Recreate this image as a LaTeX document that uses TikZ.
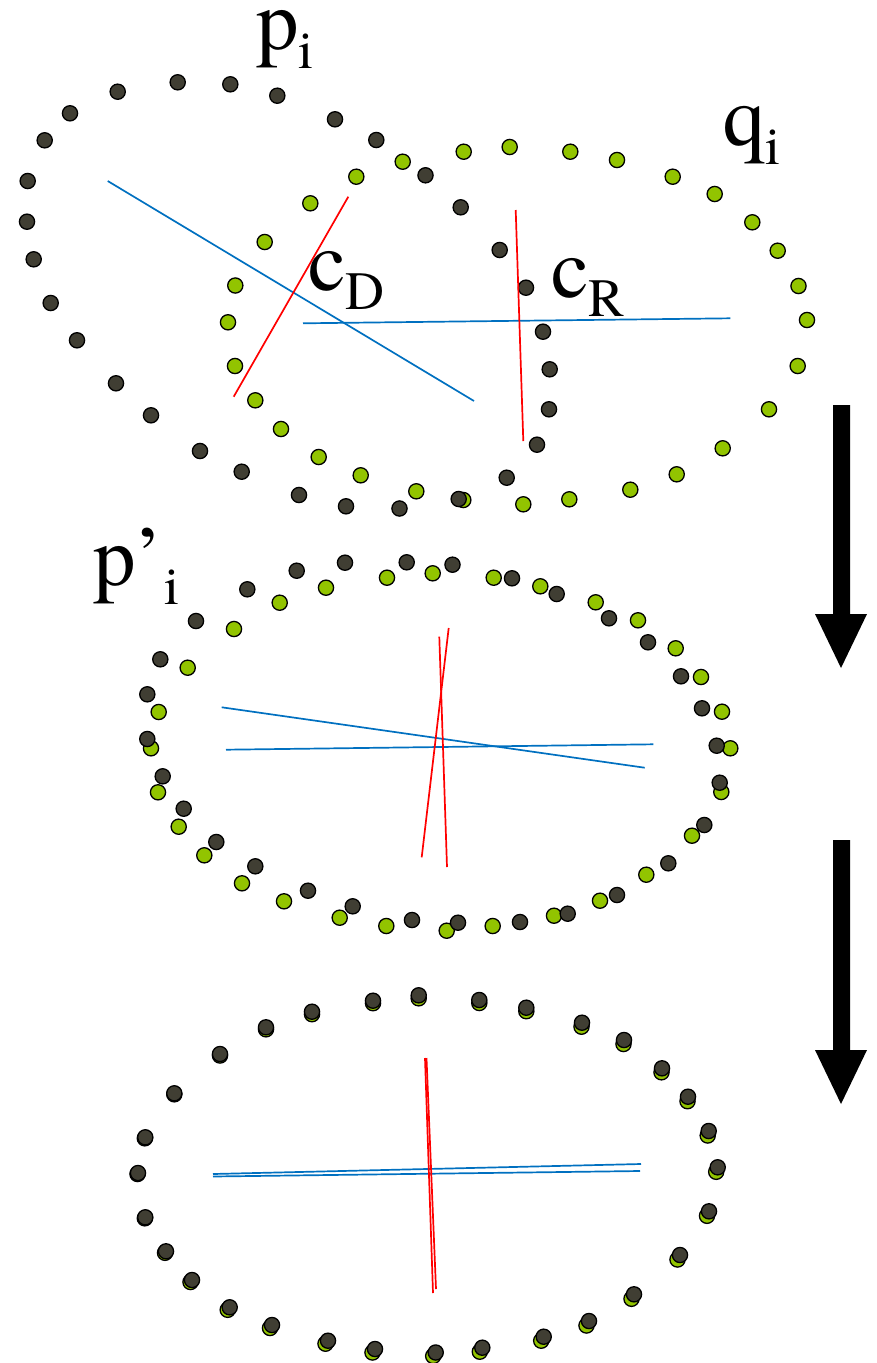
\documentclass[tikz,border=0pt]{standalone}
\usepackage{fontspec}
\newif\iftermes
\IfFontExistsTF{texgyretermes-regular.otf}
  {\setmainfont{texgyretermes-regular.otf}\termestrue}
  {\termesfalse}
\definecolor{dk}{RGB}{64,62,51}
\definecolor{gr}{RGB}{146,196,0}
\definecolor{bl}{RGB}{0,112,192}
\definecolor{rd}{RGB}{255,0,0}
\newcommand\lsub[1]{\raisebox{-19pt}{\fontsize{54}{54}\selectfont #1}}
\iftermes
  \newcommand\pk{}\newcommand\qk{}
\else
  \newcommand\pk{\kern-4pt}\newcommand\qk{\kern-2pt}
\fi
\tikzset{
  dkdot/.style={fill=dk,draw=black,line width=1.3pt},
  grdot/.style={fill=gr,draw=black,line width=1.3pt},
  bline/.style={draw=bl,line width=1.7pt},
  rline/.style={draw=rd,line width=1.7pt},
  lbl/.style={font=\fontsize{85}{85}\selectfont,inner sep=0pt,anchor=base west,text height=40pt},
  bigarrow/.style={fill=black}
}
\begin{document}
\begin{tikzpicture}[x=1pt,y=-1pt]
\useasboundingbox (0,0) rectangle (877,1363);
% ---------- top: p_i (dark) and q_i (green)
\foreach \x/\y in {402.7/161.7,463.7/151.7,509.7/147,570.3/151.7,617/160,672.7/176.7,714.7/194,752.3/222.3,777.7/250.7,798.5/286,807/320,797.7/366,769/409.3,722.7/448.3,676.7/474.3,630.3/489.7,569.3/499.3,523.3/504.3,463.3/500,416.3/491.3,360.7/475.3,318.7/457,281/429,255.3/400.3,235/366,228/322.3,235.3/285.5,264.7/242,310.3/203.3,356.3/176.7}
  \filldraw[grdot] (\x,\y) circle (7.6);
\foreach \x/\y in {117.7/91.7,177.7/82.3,230.3/84.3,277.3/95.7,335/119.3,376.3/140,425.5/175.3,460.7/207.3,499.7/250,526/287.7,543/331.7,549.7/369.3,549/409.3,537/444.7,506.7/477.7,458.7/499,399.5/508.5,346/506.3,299/495,241.7/471.7,200/451,151/415.3,116/383.3,77/340.3,50.7/303,33.7/259.3,27/221.7,27.7/181,44.7/140.3,70/113.3}
  \filldraw[dkdot] (\x,\y) circle (7.6);
\draw[bline] (107.7,181) -- (474,401);
\draw[bline] (303,323.3) -- (730.3,318.3);
\draw[rline] (348.3,196.7) -- (233.7,396.7);
\draw[rline] (515.7,210) -- (523.3,441);
% ---------- middle
\foreach \x/\y in {279.7/602.7,326/587.7,387/577.7,432.7/573.3,493.7/577.7,540.3/586.3,595.7/602.3,638/620.3,675.7/648.3,701/677,722/711.7,730.3/748.3,721.3/792,692/835.7,646.3/874.7,600/900.7,554/915.7,492.7/926,446.7/930.7,386.3/926,339.7/917.7,284/901.3,242/883.3,204.3/855.3,178.7/826.7,158/792.3,151/748.3,158.7/712,187.7/667.7,234/629}
  \filldraw[grdot] (\x,\y) circle (7.6);
\foreach \x/\y in {247.3/589.3,296.7/570.7,345/562.7,406.7/562.3,452.5/564.7,512/578.3,556.7/594,609/618.3,648/642.3,681/676.3,702/708.3,716.7/745.7,719.7/782.7,704.3/825,668.3/863.3,617/895,567.7/913.7,520/922,458/922.7,412/920,352.7/906.3,308/890.7,255.3/866.3,216.3/842,183.7/808.7,162.7/776.3,147.3/739,147.3/694.3,160.3/659.3,196/621}
  \filldraw[dkdot] (\x,\y) circle (7.6);
\draw[bline] (221.7,707.3) -- (644.7,767.7);
\draw[bline] (226,749.7) -- (653.3,744.3);
\draw[rline] (439.3,636.7) -- (447,867);
\draw[rline] (448.7,628) -- (421.7,857.3);
% ---------- bottom
\foreach \x/\y/\dx/\dy in {138/1173/-0.5/1,145.3/1137.3/-0.5/1,174.3/1093.3/0/1,220/1054/0/1.5,266/1027.3/0/2,312/1011.7/0/2.5,373/1000.7/0/2.5,418.7/995.3/0/3,479.3/1000/0/3,526.3/1007.7/0/3.5,582/1022.7/-0.5/4,624/1040/-0.5/4,662/1068.3/-0.5/4,688/1096.7/-0.5/4.5,708.7/1131/-1/4.5,717.7/1167.3/-1.5/4.5,709/1211.3/-2/4.5,680/1255/-2.5/4.5,634/1294.3/-2.5/4.5,589/1321/-2.5/4.5,543.7/1336.7/-2.5/4,482.3/1347.7/-2.5/4,435.7/1352.5/-2.5/3.5,375/1349/-2.5/3.5,328/1340.7/-2.5/3,272/1325/-2/3,229.7/1307.3/-2/2.5,192/1280/-1.5/2,166/1251.3/-1/1.5,145.3/1217.3/-0.5/1}
{
  \filldraw[grdot] (\x+\dx,\y+\dy) circle (7.6);
  \filldraw[dkdot] (\x,\y) circle (7.6);
}
\draw[bline] (213,1174) -- (641,1164);
\draw[bline] (213,1176.5) -- (640,1171);
\draw[rline] (425,1058) -- (433,1293);
\draw[rline] (426.5,1058) -- (436,1289);
% ---------- arrows
\fill[bigarrow] (833,405) -- (850,405) -- (850,614) -- (867,614) -- (841,668) -- (815,614) -- (833,614) -- cycle;
\fill[bigarrow] (833,840) -- (850,840) -- (850,1050) -- (867,1050) -- (841,1104) -- (815,1050) -- (833,1050) -- cycle;
% ---------- labels
\node[lbl] (pi) at (256,49) {p\pk\lsub{i}};
\node[lbl] (qi) at (723,145) {q\qk\lsub{i}};
\node[lbl] (cD) at (308,290) {c\lsub{D}};
\node[lbl] (cR) at (551,297) {c\lsub{R}};
\node[lbl] (ppi) at (93,585) {p’\lsub{i}};
\end{tikzpicture}
\end{document}
